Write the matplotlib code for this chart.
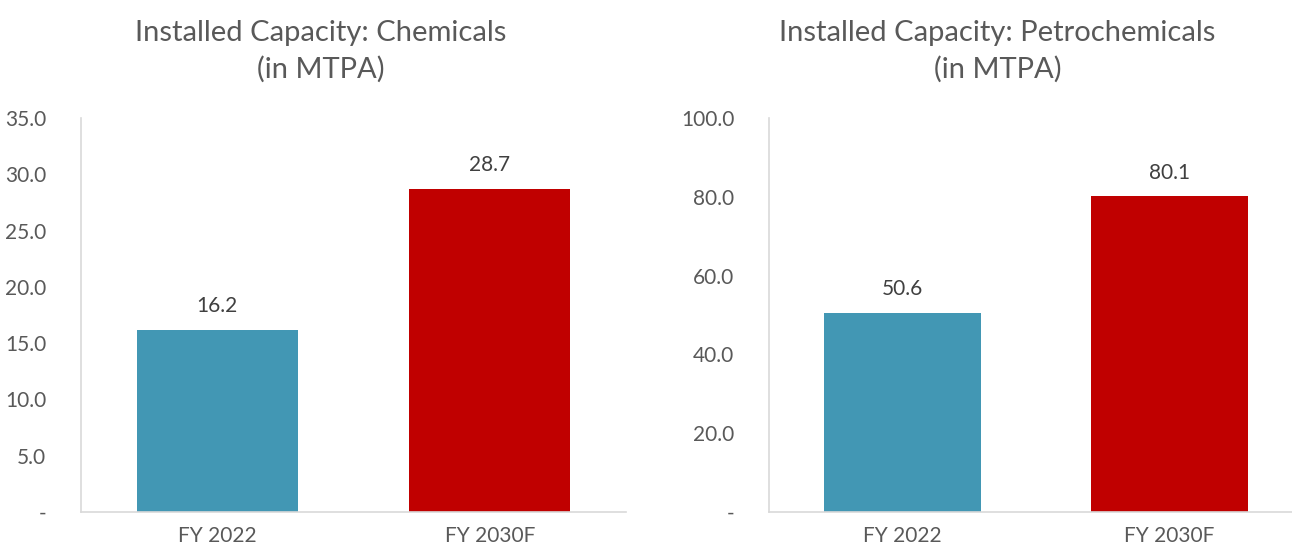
import matplotlib.pyplot as plt
from matplotlib.ticker import FuncFormatter

plt.rcParams['font.family'] = ['Lato', 'DejaVu Sans']

years = ['FY 2022', 'FY 2030F']
chemicals = [16.2, 28.7]
petrochemicals = [50.6, 80.1]
bar_colors = ['#4297B4', '#C00000']


def fmt(v, pos):
    if v == 0:
        return '-'
    return '%.1f' % v


def draw(ax, values, ymax, step):
    x = range(len(values))
    bars = ax.bar(x, values, width=0.59, color=bar_colors)
    for b, v in zip(bars, values):
        ax.annotate('%.1f' % v, (b.get_x() + b.get_width() / 2, v),
                    xytext=(0, 10), textcoords='offset points',
                    ha='center', va='bottom', fontsize=15, color='#404040')
    ax.set_ylim(0, ymax)
    ax.set_yticks([i * step for i in range(int(round(ymax / step)) + 1)])
    ax.yaxis.set_major_formatter(FuncFormatter(fmt))
    ax.set_xticks(list(x))
    ax.set_xticklabels(years)
    ax.tick_params(length=0, labelsize=15, labelcolor='#595959')
    ax.tick_params(axis='y', pad=25)
    ax.tick_params(axis='x', pad=10)
    for s in ['top', 'right']:
        ax.spines[s].set_visible(False)
    for s in ['left', 'bottom']:
        ax.spines[s].set_color('#D9D9D9')
        ax.spines[s].set_linewidth(1.2)


fig = plt.figure(figsize=(12.92, 5.53), dpi=100)
ax1 = fig.add_axes([0.0627, 0.0741, 0.4218, 0.7125])
ax2 = fig.add_axes([0.5952, 0.0741, 0.4048, 0.7125])

draw(ax1, chemicals, 35, 5)
ax1.set_xlim(-0.5, 1.5)
draw(ax2, petrochemicals, 100, 20)
ax2.set_xlim(-0.5, 1.46)

fig.text(0.2485, 0.908, 'Installed Capacity: Chemicals\n(in MTPA)', ha='center', va='center',
         fontsize=21, color='#595959', linespacing=1.45)
fig.text(0.772, 0.908, 'Installed Capacity: Petrochemicals\n(in MTPA)', ha='center', va='center',
         fontsize=21, color='#595959', linespacing=1.45)

fig.savefig('out.png', dpi=100)
